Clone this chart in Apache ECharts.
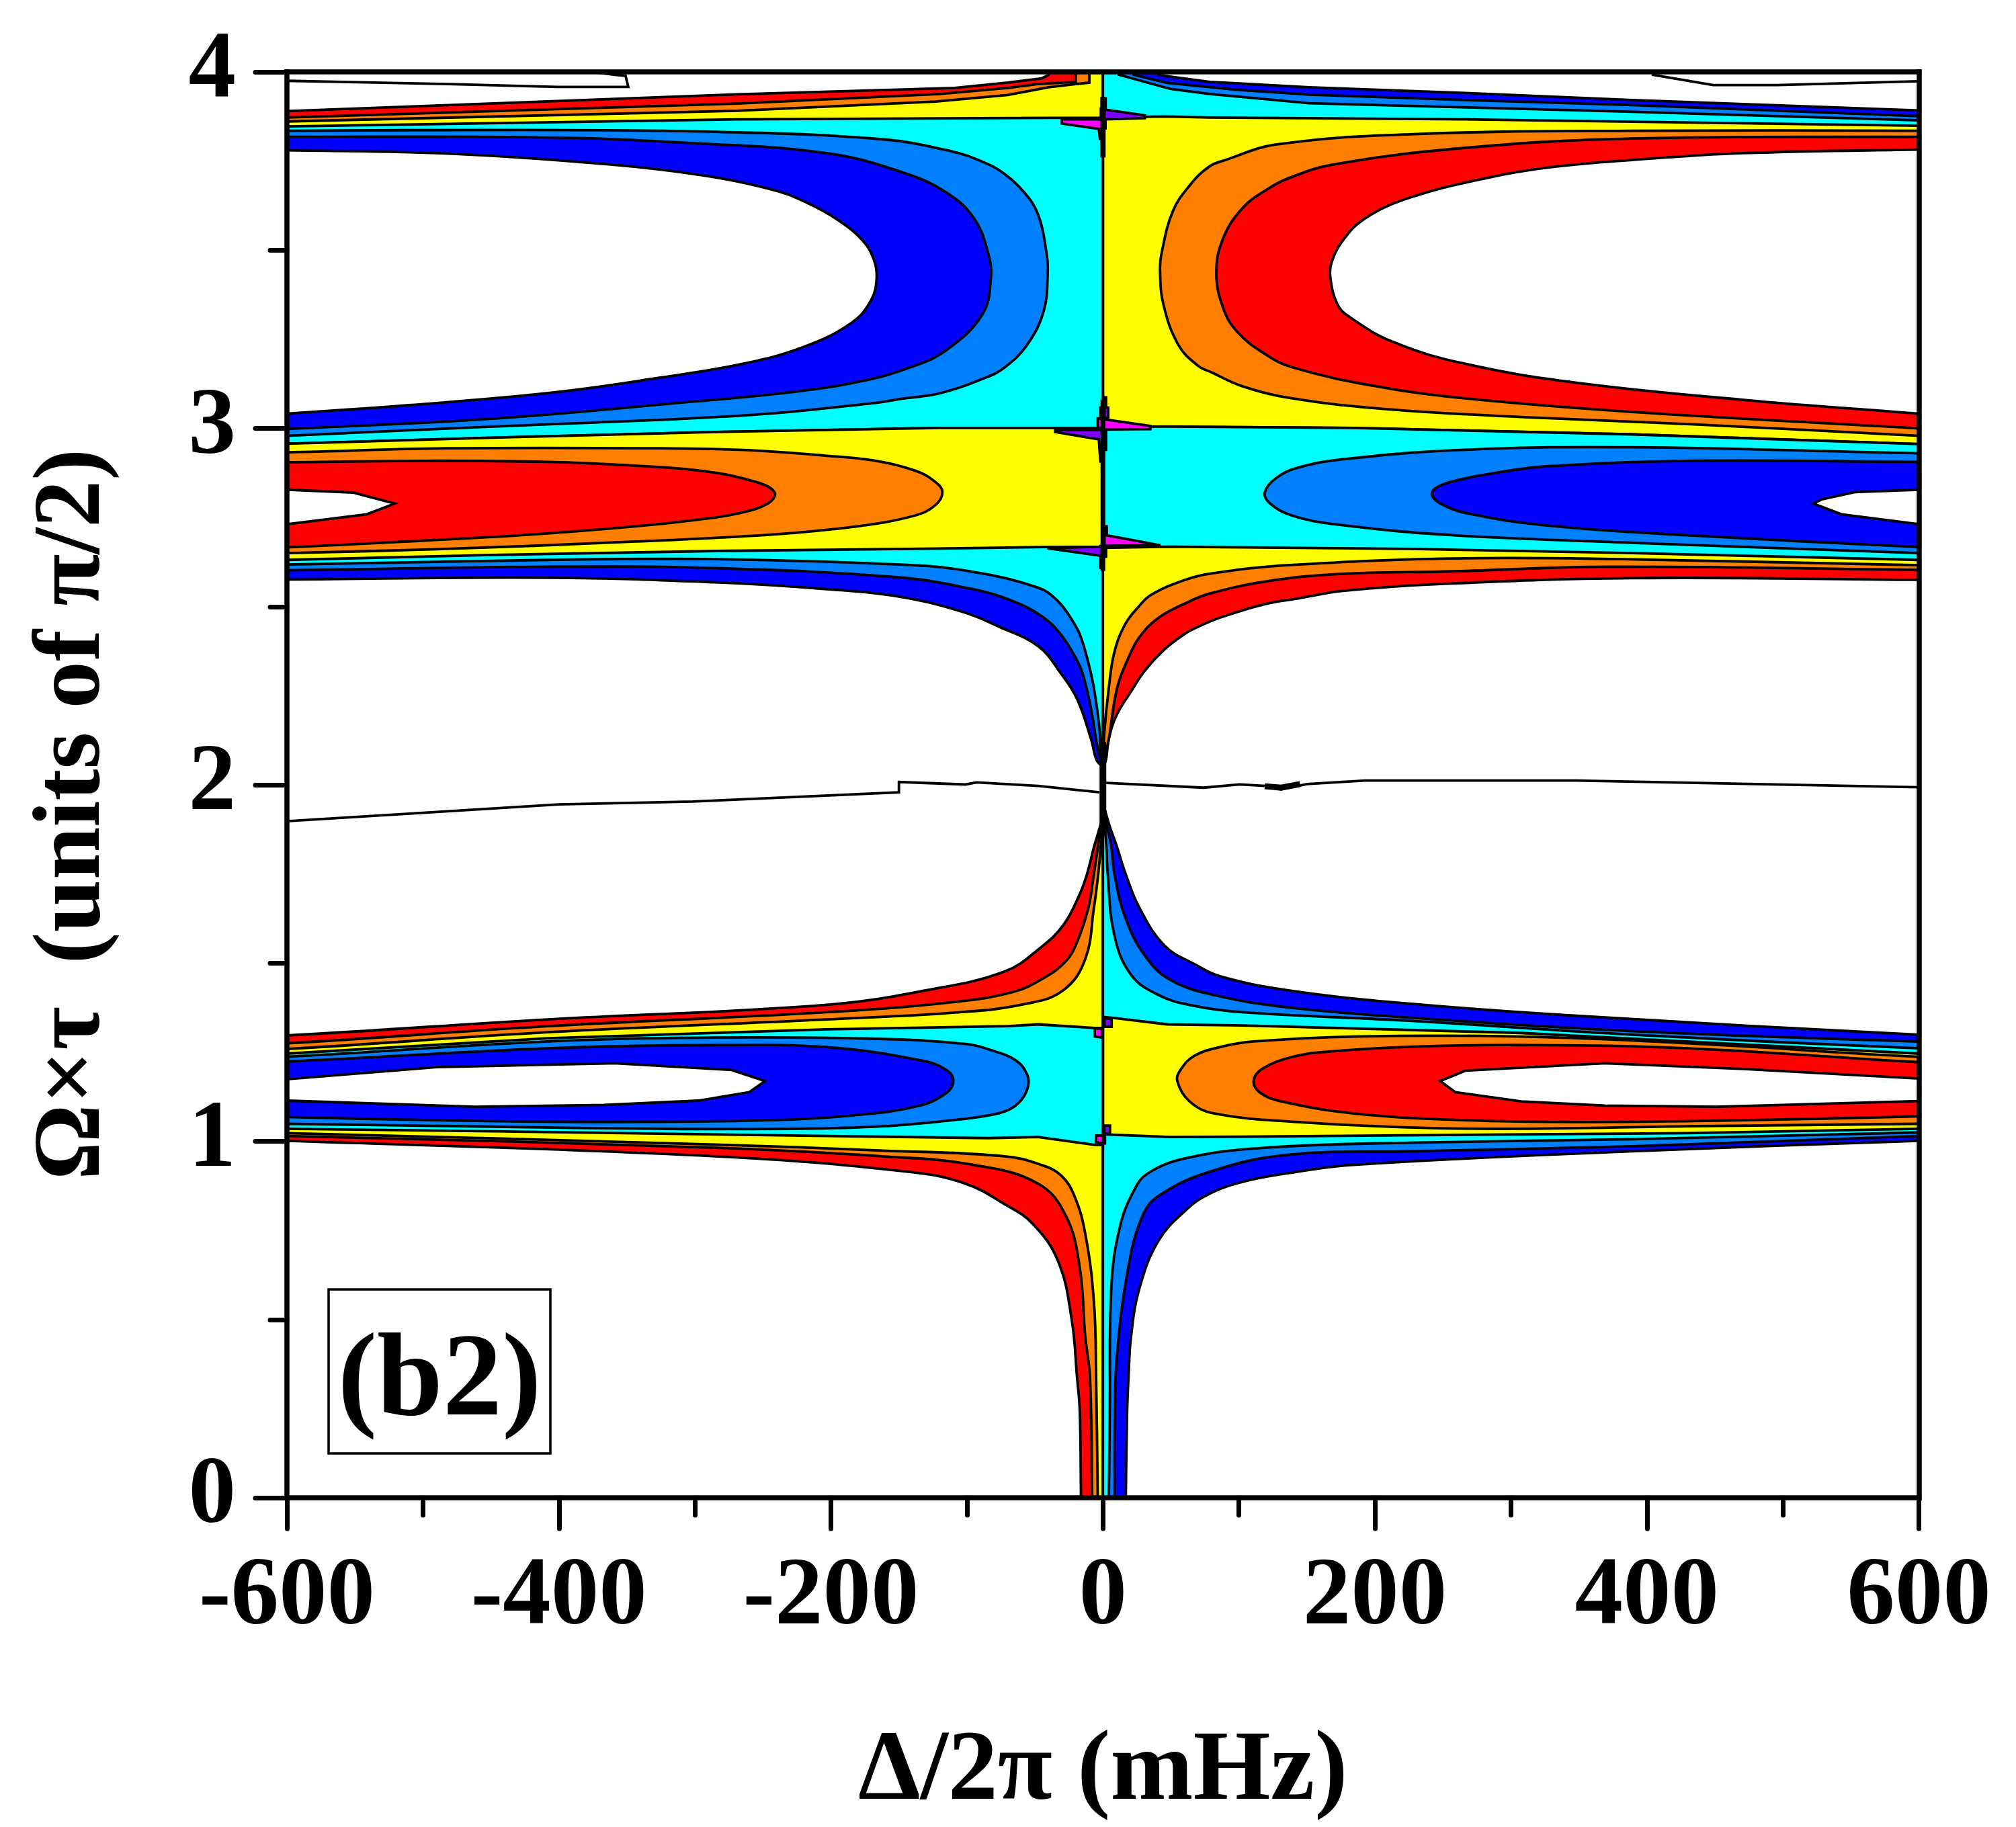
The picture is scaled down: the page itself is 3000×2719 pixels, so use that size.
<!DOCTYPE html>
<html>
<head>
<meta charset="utf-8">
<style>html,body{margin:0;padding:0;background:#fff}#chart{width:3000px;height:2719px}</style>
<script src="https://cdn.jsdelivr.net/npm/echarts@6/dist/echarts.min.js"></script>
</head>
<body>
<div id="chart"></div>
<script>
// Tick labels
const xTickLabels = ['-600', '-400', '-200', '0', '200', '400', '600'];
const yTickLabels = ['0', '1', '2', '3', '4'];

// Contour boundaries as [detuning in mHz, pulse area in units of pi/2]

// Left half, wedge at the top
const wedgeRedLeft = [[-600,3.890],[-269,3.937],[-109,3.955],[-70,3.970],[-45,3.982],[-40,3.991],[-38,4.05]];
const wedgeOrangeLeft = [[-600,3.872],[-269,3.911],[-120,3.938],[-70,3.955],[-48,3.966],[-20,3.972],[-20,4.05]];
const wedgeYellowLeft = [[-600,3.861],[-269,3.891],[-123,3.917],[-70,3.935],[-40,3.957],[-20,3.966],[-10,3.970],[-10,4.05]];

// Left half, upper cyan block
const cyanTopLeft = [[-600,3.847],[-269,3.867],[-39,3.871],[0,3.871]];
const cyanBottomLeft = [[-600,2.957],[-449,2.974],[-285,2.990],[-121,3.001],[-39,3.001],[0,3.001]];
const azureUpperLeft = [[-600,3.835],[-428.6,3.837],[-285,3.832],[-162.3,3.811],[-111,3.777],[-88.6,3.748],[-74.3,3.719],[-57.9,3.662],[-47.6,3.599],[-41.5,3.493],[-40.6,3.436],[-43.5,3.330],[-55.8,3.234],[-72.2,3.171],[-86.5,3.142],[-119.3,3.099],[-146,3.084],[-170.5,3.070],[-264.8,3.036],[-449,3.005],[-600,2.979]];
const blueUpperLeft = [[-600,3.818],[-408,3.816],[-305.7,3.801],[-203.3,3.772],[-148,3.719],[-115.2,3.662],[-94.7,3.589],[-84.5,3.493],[-82.4,3.421],[-88.6,3.320],[-115.2,3.219],[-141.8,3.171],[-176.7,3.133],[-223.8,3.104],[-301.6,3.075],[-449,3.027],[-600,2.998]];
const whiteUpperLeft = [[-600,3.780],[-490,3.772],[-387.7,3.748],[-305.7,3.716],[-244.3,3.671],[-217.6,3.633],[-195,3.585],[-176.7,3.527],[-168.5,3.474],[-166.4,3.421],[-170.5,3.359],[-184.9,3.296],[-219.7,3.229],[-264.8,3.181],[-326.2,3.142],[-408,3.099],[-510.6,3.065],[-600,3.041]];

// Left half, yellow block below it
const yellowBottomLeft = [[-600,2.631],[-449,2.645],[-285,2.656],[-121,2.663],[-43.5,2.667],[0,2.668]];
const orangeMidLeft = [[-600,2.933],[-482,2.944],[-326,2.944],[-256.6,2.938],[-203,2.923],[-170.5,2.911],[-137.8,2.881],[-123.4,2.850],[-118,2.821],[-123.4,2.784],[-138.6,2.755],[-183,2.724],[-244,2.702],[-346.7,2.682],[-490,2.661],[-600,2.650]];
const redMidLeft = [[-600,2.905],[-498,2.909],[-408,2.906],[-346.7,2.896],[-293.4,2.880],[-254.5,2.849],[-241.4,2.820],[-246.3,2.789],[-269,2.761],[-297.5,2.744],[-346.7,2.724],[-428.6,2.700],[-531,2.679],[-600,2.666]];
const whiteMidLeft = [[-600,2.828],[-551.5,2.820],[-520.8,2.789],[-541.3,2.759],[-600,2.731]];

// Left half, tail falling towards the centre at 2
const tailCyanLeft = [[-600,2.618],[-408,2.631],[-285,2.633],[-150,2.618],[-101,2.601],[-47.6,2.553],[-33,2.515],[-23,2.464],[-17,2.422],[-11,2.347],[-6.6,2.271],[-2.6,2.161],[-1.7,2.102],[0,2.05]];
const tailAzureLeft = [[-600,2.602],[-408,2.612],[-285,2.608],[-150,2.582],[-97,2.550],[-66,2.515],[-43.5,2.469],[-31,2.422],[-21,2.363],[-15,2.313],[-8.7,2.212],[-3.8,2.102],[0,2.05]];
const tailBlueLeft = [[-600,2.576],[-408,2.581],[-285,2.568],[-203,2.549],[-150,2.528],[-103,2.485],[-76,2.443],[-47.6,2.389],[-31,2.313],[-19,2.241],[-8.7,2.128],[-4.6,2.069],[0,2.05]];

// Left half, tail rising towards the centre at 2
const riseRedLeft = [[-600,1.297],[-408,1.342],[-203,1.383],[-129.6,1.424],[-72,1.477],[-45.6,1.544],[-29,1.607],[-17,1.694],[-11.6,1.751],[-6.6,1.825],[-0.5,1.909],[0,1.95]];
const riseOrangeLeft = [[-600,1.275],[-408,1.323],[-203,1.362],[-109,1.391],[-66,1.419],[-43.5,1.458],[-27,1.506],[-19,1.559],[-10.7,1.655],[-6.6,1.751],[-3.5,1.83],[-0.5,1.91],[0,1.95]];
const riseYellowLeft = [[-600,1.259],[-408,1.306],[-203,1.342],[-105,1.362],[-56,1.386],[-29,1.424],[-13,1.511],[-6.6,1.655],[-3.4,1.751],[-1.5,1.83],[-0.3,1.91],[0,1.95]];

// Left half, lower cyan block
const lowCyanTopLeft = [[-600,1.246],[-408,1.289],[-203,1.314],[-70,1.323],[-47.6,1.328],[-6,1.318],[0,1.318]];
const lowCyanBottomLeft = [[-600,1.035],[-449,1.028],[-203,1.015],[-84.5,1.009],[-47.6,1.012],[-6,0.990],[0,0.989]];
const azureLowLeft = [[-600,1.237],[-408,1.280],[-285,1.291],[-162,1.287],[-101,1.273],[-82.4,1.256],[-64,1.227],[-55.8,1.188],[-55,1.155],[-60,1.116],[-70,1.087],[-86.6,1.071],[-111,1.059],[-162,1.042],[-224,1.035],[-326,1.035],[-449,1.041],[-600,1.049]];
const blueLowLeft = [[-600,1.224],[-408,1.261],[-285,1.270],[-203,1.264],[-133.6,1.227],[-115,1.200],[-110,1.169],[-115,1.136],[-135.7,1.099],[-183,1.073],[-244,1.059],[-367,1.054],[-490,1.059],[-600,1.068]];
const whiteLowLeft = [[-600,1.174],[-490,1.208],[-359,1.219],[-273,1.200],[-248.4,1.169],[-260,1.138],[-297.5,1.114],[-367,1.102],[-461,1.097],[-600,1.114]];

// Left half, skirt running down to the bottom axis
const skirtRedLeft = [[-600,1.001],[-285,0.958],[-142,0.914],[-101,0.881],[-72,0.823],[-52,0.770],[-33,0.664],[-23,0.501],[-19,0.337],[-17,0.243],[-16.1,0]];
const skirtOrangeLeft = [[-600,1.015],[-285,0.982],[-162,0.958],[-95,0.934],[-47.6,0.881],[-27,0.789],[-17,0.645],[-13,0.453],[-9.5,0.337],[-7.9,0]];
const skirtYellowLeft = [[-600,1.023],[-285,0.991],[-162,0.974],[-72,0.958],[-45.6,0.934],[-31,0.905],[-21,0.847],[-13,0.741],[-6.6,0.549],[-5,0.337],[-3.8,0]];

// Right half, wedge at the top
const wedgeBlueRight = [[600,3.892],[389.4,3.921],[266.5,3.941],[151.8,3.957],[102.6,3.967],[78.6,3.972],[45.3,3.989],[41,3.992],[38,4.05]];
const wedgeAzureRight = [[600,3.876],[389.4,3.907],[266.5,3.921],[151.8,3.936],[98.5,3.950],[47.3,3.969],[22.6,3.992],[21,4.05]];
const wedgeCyanRight = [[600,3.864],[389.4,3.888],[151.8,3.912],[78.6,3.938],[50,3.952],[11.8,3.992],[10,4.05]];

// Right half, upper yellow block
const yellowTopRight = [[600,3.849],[266.5,3.867],[78.6,3.872],[45.6,3.875],[0,3.872]];
const yellowBottomRight = [[600,2.956],[389.4,2.983],[184.5,3.001],[49,3.005],[0,3.005]];
const orangeUpperRight = [[600,3.835],[389.4,3.835],[225.5,3.825],[127,3.796],[90.3,3.753],[78,3.734],[63.7,3.681],[51.4,3.609],[43.2,3.493],[42,3.445],[44.4,3.349],[55.5,3.234],[69.8,3.176],[80,3.157],[102.6,3.118],[139.5,3.084],[205,3.055],[307.5,3.032],[430,3.012],[600,2.979]];
const redUpperRight = [[600,3.818],[389.4,3.813],[266.5,3.787],[168,3.739],[135.4,3.700],[121,3.671],[102.6,3.618],[88.3,3.532],[83.4,3.436],[88.3,3.339],[98.5,3.272],[119,3.209],[139.5,3.171],[201,3.118],[266.5,3.084],[389.4,3.046],[600,3.000]];
const whiteUpperRight = [[600,3.782],[471,3.772],[389.4,3.753],[328,3.732],[283,3.703],[225.5,3.647],[192.7,3.589],[176.4,3.527],[168,3.464],[167.3,3.421],[172.3,3.349],[180.4,3.315],[213,3.243],[266.5,3.181],[348.4,3.128],[471,3.080],[600,3.041]];

// Right half, cyan block below it
const cyanBottomRight = [[600,2.631],[389.4,2.650],[225.5,2.662],[49,2.668],[0,2.665]];
const azureMidRight = [[600,2.930],[389.4,2.947],[266.5,2.940],[180.4,2.915],[143.6,2.890],[127.2,2.860],[119,2.820],[123,2.789],[139.5,2.755],[172.3,2.730],[258.3,2.700],[389.4,2.679],[600,2.650]];
const blueMidRight = [[600,2.906],[430,2.909],[328,2.894],[295,2.879],[254,2.848],[242,2.820],[248,2.789],[271.4,2.759],[328,2.727],[430,2.700],[600,2.667]];
const whiteMidRight = [[600,2.828],[553,2.821],[528.7,2.801],[522.6,2.789],[543,2.759],[600,2.731]];

// Right half, tail falling towards the centre at 2
const tailYellowRight = [[600,2.616],[381,2.633],[258,2.635],[135.4,2.616],[80,2.593],[59.6,2.574],[35,2.532],[26.8,2.502],[16.6,2.452],[8.4,2.372],[4.3,2.271],[1,2.145],[0,2.05]];
const tailOrangeRight = [[600,2.603],[373,2.612],[258,2.599],[172,2.591],[119,2.570],[78,2.536],[61.6,2.511],[41,2.469],[26.8,2.414],[18.6,2.355],[10.4,2.271],[4.3,2.128],[0,2.05]];
const tailRedRight = [[600,2.575],[389.4,2.580],[246,2.563],[176.4,2.544],[143.6,2.523],[119,2.507],[86,2.469],[69.8,2.443],[59.6,2.422],[45.3,2.380],[30.9,2.321],[20.7,2.262],[10,2.195],[4.3,2.128],[2.2,2.069],[0,2.05]];

// Right half, tail rising towards the centre at 2
const riseBlueRight = [[600,1.299],[348.4,1.352],[225.5,1.386],[135.4,1.424],[86,1.463],[67.8,1.496],[45.3,1.549],[26.8,1.655],[16.6,1.751],[10.4,1.825],[4.3,1.892],[0,1.95]];
const riseAzureRight = [[600,1.280],[389.4,1.309],[225.5,1.347],[135.4,1.376],[82,1.410],[49.4,1.453],[31,1.520],[16.6,1.626],[8.4,1.751],[6,1.83],[2,1.9],[0,1.95]];
const riseCyanRight = [[600,1.261],[389.4,1.299],[225.5,1.338],[102.6,1.362],[65.7,1.381],[41,1.410],[20.7,1.467],[8.4,1.578],[3.5,1.751],[2.5,1.83],[1,1.9],[0,1.95]];

// Right half, lower yellow block
const lowYellowTopRight = [[600,1.246],[307,1.304],[102.6,1.325],[47.3,1.328],[7.7,1.346],[0,1.349]];
const lowYellowBottomRight = [[600,1.035],[430,1.023],[266.5,1.018],[102.6,1.013],[49.4,1.012],[2.8,1.019],[0,1.020]];
const orangeLowRight = [[600,1.237],[430,1.275],[307,1.294],[184.5,1.294],[110.8,1.280],[88,1.266],[67.8,1.241],[57.5,1.203],[54.7,1.169],[63.7,1.112],[82,1.078],[143.6,1.054],[233.7,1.038],[307,1.035],[430,1.042],[600,1.049]];
const redLowRight = [[600,1.222],[430,1.261],[307,1.270],[225.5,1.265],[164,1.251],[139.5,1.237],[117,1.203],[110.8,1.169],[115.7,1.136],[131.3,1.112],[184.5,1.078],[266.5,1.059],[348.4,1.054],[471.3,1.059],[600,1.070]];
const whiteLowRight = [[600,1.176],[471.3,1.203],[369,1.219],[266.5,1.198],[248,1.169],[259,1.138],[307.5,1.112],[369,1.100],[451,1.097],[600,1.113]];

// Right half, skirt running down to the bottom axis
const skirtBlueRight = [[600,1.001],[389.4,0.972],[184.5,0.934],[135.4,0.910],[102.6,0.886],[78,0.852],[61.6,0.809],[41,0.722],[26.8,0.587],[20.7,0.453],[18.8,0.337],[17.8,0.243],[16.8,0]];
const skirtAzureRight = [[600,1.015],[389.4,0.986],[225.5,0.972],[135.4,0.962],[78,0.914],[41,0.847],[28.9,0.789],[18.6,0.645],[10.4,0.404],[8.8,0.243],[8.6,0]];
const skirtCyanRight = [[600,1.025],[389.4,1.006],[225.5,0.996],[119,0.982],[61.6,0.953],[33,0.910],[22.7,0.861],[12.5,0.760],[6.3,0.597],[5.1,0.243],[4.4,0]];

// Spikes beside the resonance line
const spikesMagenta = [
  [[-30.2,3.867],[-0.5,3.867],[-0.5,3.812],[-2.2,3.812],[-3,3.840],[-30.2,3.855]],
  [[1,3.925],[2,3.925],[2,3.897],[1,3.897]],
  [[-3.8,3.028],[34.9,3.007],[34.9,2.998],[2.3,2.997],[2.3,2.940],[1.1,2.940],[1.1,2.997],[-3.8,3.003]],
  [[-1.8,3.030],[-1.8,3.058],[-0.9,3.058],[-0.5,3.030]],
  [[1.1,2.725],[2.8,2.725],[2.8,2.700],[42.3,2.672],[1.1,2.671]],
  [[-1.8,2.637],[-0.5,2.637],[-0.5,2.609],[-1.8,2.609]],
  [[-6,1.316],[-0.5,1.316],[-0.5,1.291],[-6,1.294]],
  [[-5.1,1.016],[1.5,1.016],[1.5,0.994],[-5.1,0.997]]
];
const spikesPurple = [
  [[1.4,3.894],[30.8,3.878],[30.8,3.870],[1.9,3.867],[1.9,3.842],[1,3.842],[1,3.894]],
  [[-1.5,3.897],[-0.5,3.897],[-0.5,3.870],[-1.5,3.870]],
  [[1.1,3.087],[2.3,3.087],[2.3,3.058],[3.9,3.058],[3.9,3.030],[1.1,3.030]],
  [[-35.1,2.995],[-0.5,2.996],[-0.5,2.907],[-1.8,2.907],[-2.5,2.939],[-3,2.969],[-35.1,2.990]],
  [[-40.9,2.664],[-3,2.668],[-0.9,2.672],[-0.9,2.642],[-40.9,2.664]],
  [[1.1,2.666],[2.3,2.666],[2.3,2.640],[1.1,2.640]],
  [[1.1,1.345],[6.4,1.343],[6.4,1.321],[1.1,1.321]],
  [[1.1,1.044],[5.2,1.044],[5.2,1.021],[1.1,1.021]]
];

// Lone contour lines in the white regions
const lineTopLeft = [[-600,3.975],[-560,3.972],[-481,3.966],[-401,3.958],[-349,3.958],[-351,3.989],[-359,3.992],[-375,4.0]];
const lineTopRight = [[403.7,3.992],[448.8,3.963],[496,3.963],[600,3.974]];
const lineCentreLeft = [[-600,1.898],[-400,1.945],[-301.6,1.953],[-150,1.979],[-150,2.008],[-101,2.001],[-93,2.007],[-47.6,1.997],[-2.6,1.979]];
const lineCentreRight = [[0.2,2.006],[74,1.992],[100.6,2.001],[119,1.997],[131,1.987],[150,2.002],[192.7,2.012],[348,2.012],[600,1.993]];
const lineCentreKnot = [[119,1.996],[131,1.992],[145,2.002]];

// The resonance line at zero detuning, as [bottom, top, stroke width]
const resonanceLine = [[0,1.0,3],[1.0,1.35,4],[1.35,1.86,3],[1.86,2.12,10],[2.12,2.6,3],[2.6,2.95,7],[2.95,3.08,7],[3.08,3.76,4],[3.76,3.93,8],[3.93,4,3]];

const RED = '#ff0000', ORANGE = '#ff8000', YELLOW = '#ffff00', CYAN = '#00ffff',
      AZURE = '#0080ff', BLUE = '#0000ff', WHITE = '#ffffff', MAGENTA = '#ff00ff', PURPLE = '#8000ff';
const ROUNDED = 0.4;

// A doubled vertex keeps path smoothing from bending the straight closing edges
const corner = p => [p, p];

// Pads a band that starts and ends on the plot edge so its stroke stays outside the frame
function lobe(curve, side) {
  const first = curve[0], last = curve[curve.length - 1];
  return [...corner([side * 630, first[1]]), first, ...curve.slice(1, -1), last, last, ...corner([side * 630, last[1]])];
}
// Closes a band against the centre line, reaching the given height there
function toCentre(curve, height, side) {
  const end = curve[curve.length - 1];
  return [...corner([side * 630, curve[0][1]]), curve[0], ...curve.slice(1), end,
    ...corner([0, end[1]]), ...corner([0, height]), ...corner([side * 630, height])];
}
// Closes a block between an upper and a lower boundary
function block(top, bottom, side) {
  return [[side * 630, top[0][1]]].concat(top, bottom.slice().reverse(), [[side * 630, bottom[0][1]]]);
}

// Painted back to front, so each later fill covers the closing edge of the one before it
const fills = [
  [RED, toCentre(wedgeRedLeft, 3.8, -1)],
  [ORANGE, toCentre(wedgeOrangeLeft, 3.8, -1)],
  [YELLOW, toCentre(wedgeYellowLeft, 3.8, -1)],
  [BLUE, toCentre(wedgeBlueRight, 3.8, 1)],
  [AZURE, toCentre(wedgeAzureRight, 3.8, 1)],
  [CYAN, toCentre(wedgeCyanRight, 3.8, 1)],

  [BLUE, toCentre(tailBlueLeft, 2.7, -1), ROUNDED],
  [AZURE, toCentre(tailAzureLeft, 2.7, -1), ROUNDED],
  [CYAN, toCentre(tailCyanLeft, 2.7, -1), ROUNDED],
  [RED, toCentre(tailRedRight, 2.7, 1), ROUNDED],
  [ORANGE, toCentre(tailOrangeRight, 2.7, 1), ROUNDED],
  [YELLOW, toCentre(tailYellowRight, 2.7, 1), ROUNDED],

  [RED, toCentre(riseRedLeft, 1.2, -1), ROUNDED],
  [ORANGE, toCentre(riseOrangeLeft, 1.2, -1), ROUNDED],
  [YELLOW, toCentre(riseYellowLeft, 1.2, -1), ROUNDED],
  [BLUE, toCentre(riseBlueRight, 1.2, 1), ROUNDED],
  [AZURE, toCentre(riseAzureRight, 1.2, 1), ROUNDED],
  [CYAN, toCentre(riseCyanRight, 1.2, 1), ROUNDED],

  [RED, toCentre(skirtRedLeft, 1.1, -1), ROUNDED],
  [ORANGE, toCentre(skirtOrangeLeft, 1.1, -1), ROUNDED],
  [YELLOW, toCentre(skirtYellowLeft, 1.1, -1), ROUNDED],
  [BLUE, toCentre(skirtBlueRight, 1.1, 1), ROUNDED],
  [AZURE, toCentre(skirtAzureRight, 1.1, 1), ROUNDED],
  [CYAN, toCentre(skirtCyanRight, 1.1, 1), ROUNDED],

  [CYAN, block(cyanTopLeft, cyanBottomLeft, -1)],
  [AZURE, lobe(azureUpperLeft, -1), ROUNDED],
  [BLUE, lobe(blueUpperLeft, -1), ROUNDED],
  [WHITE, lobe(whiteUpperLeft, -1), ROUNDED],

  [YELLOW, block(cyanBottomLeft, yellowBottomLeft, -1)],
  [ORANGE, lobe(orangeMidLeft, -1), ROUNDED],
  [RED, lobe(redMidLeft, -1), ROUNDED],
  [WHITE, lobe(whiteMidLeft, -1)],

  [CYAN, block(lowCyanTopLeft, lowCyanBottomLeft, -1)],
  [AZURE, lobe(azureLowLeft, -1), ROUNDED],
  [BLUE, lobe(blueLowLeft, -1), ROUNDED],
  [WHITE, lobe(whiteLowLeft, -1)],

  [YELLOW, block(yellowTopRight, yellowBottomRight, 1)],
  [ORANGE, lobe(orangeUpperRight, 1), ROUNDED],
  [RED, lobe(redUpperRight, 1), ROUNDED],
  [WHITE, lobe(whiteUpperRight, 1), ROUNDED],

  [CYAN, block(yellowBottomRight, cyanBottomRight, 1)],
  [AZURE, lobe(azureMidRight, 1), ROUNDED],
  [BLUE, lobe(blueMidRight, 1), ROUNDED],
  [WHITE, lobe(whiteMidRight, 1)],

  [YELLOW, block(lowYellowTopRight, lowYellowBottomRight, 1)],
  [ORANGE, lobe(orangeLowRight, 1), ROUNDED],
  [RED, lobe(redLowRight, 1), ROUNDED],
  [WHITE, lobe(whiteLowRight, 1)]
];
spikesMagenta.forEach(p => fills.push([MAGENTA, p]));
spikesPurple.forEach(p => fills.push([PURPLE, p]));

const strokes = [lineTopLeft, lineTopRight, lineCentreLeft, lineCentreRight].map(p => [p, 3.8])
  .concat([[lineCentreKnot, 9]])
  .concat(resonanceLine.map(s => [[[0, s[0]], [0, s[1]]], s[2]]));

const chart = echarts.init(document.getElementById('chart'));
const serif = '"Liberation Serif", "Times New Roman", serif';
const frameLine = { lineStyle: { color: '#000', width: 7.5, cap: 'square' } };

chart.setOption({
  animation: false,
  backgroundColor: '#fff',
  grid: { left: 427, top: 107, width: 2428.5, height: 2122, containLabel: false, outerBoundsMode: 'none' },
  xAxis: [
    {
      type: 'value', min: -600, max: 600, interval: 200, z: 6,
      axisLine: Object.assign({ onZero: false }, frameLine),
      axisTick: { show: true, length: 46, lineStyle: { color: '#000', width: 7, cap: 'round' } },
      minorTick: { show: true, splitNumber: 2, length: 26, lineStyle: { color: '#000', width: 7, cap: 'round' } },
      splitLine: { show: false }, minorSplitLine: { show: false },
      axisLabel: {
        margin: 79, color: '#000', fontFamily: serif, fontWeight: 'bold', fontSize: 143,
        showMinLabel: true, showMaxLabel: true, hideOverlap: false,
        formatter: v => xTickLabels[Math.round((v + 600) / 200)]
      },
      name: 'Δ/2π (mHz)', nameLocation: 'middle', nameGap: 336,
      nameTextStyle: { color: '#000', fontFamily: serif, fontWeight: 'bold', fontSize: 148 }
    },
    {
      type: 'value', min: -600, max: 600, position: 'top', z: 6,
      axisLine: Object.assign({ onZero: false }, frameLine),
      axisTick: { show: false }, axisLabel: { show: false }, splitLine: { show: false }
    }
  ],
  yAxis: [
    {
      type: 'value', min: 0, max: 4, interval: 1, z: 6,
      axisLine: Object.assign({ onZero: false }, frameLine),
      axisTick: { show: true, length: 47, lineStyle: { color: '#000', width: 7, cap: 'round' } },
      minorTick: { show: true, splitNumber: 2, length: 25, lineStyle: { color: '#000', width: 7, cap: 'round' } },
      splitLine: { show: false }, minorSplitLine: { show: false },
      axisLabel: {
        margin: 76, color: '#000', fontFamily: serif, fontWeight: 'bold', fontSize: 141,
        showMinLabel: true, showMaxLabel: true, hideOverlap: false,
        formatter: v => yTickLabels[Math.round(v)]
      },
      name: 'Ω×τ \u2009(units of π/2)', nameLocation: 'middle', nameGap: 246, nameRotate: 90,
      nameTextStyle: { color: '#000', fontFamily: serif, fontWeight: 'bold', fontSize: 141, padding: [0, 88, 0, 0] }
    },
    {
      type: 'value', min: 0, max: 4, position: 'right', z: 6,
      axisLine: Object.assign({ onZero: false }, frameLine),
      axisTick: { show: false }, axisLabel: { show: false }, splitLine: { show: false }
    }
  ],
  series: [
    {
      type: 'custom', coordinateSystem: 'cartesian2d', xAxisIndex: 0, yAxisIndex: 0,
      clip: true, silent: true, z: 2,
      data: fills.map((f, i) => [0, 0, i]),
      renderItem: (params, api) => {
        const f = fills[api.value(2)];
        return {
          type: 'polygon',
          shape: { points: f[1].map(p => api.coord(p)), smooth: f[2] || 0 },
          style: { fill: f[0], stroke: '#000', lineWidth: 3.8, lineJoin: 'miter' }
        };
      }
    },
    {
      type: 'custom', coordinateSystem: 'cartesian2d', xAxisIndex: 0, yAxisIndex: 0,
      clip: true, silent: true, z: 3,
      data: strokes.map((s, i) => [0, 0, i]),
      renderItem: (params, api) => {
        const s = strokes[api.value(2)];
        return {
          type: 'polyline',
          shape: { points: s[0].map(p => api.coord(p)) },
          style: { fill: 'none', stroke: '#000', lineWidth: s[1] }
        };
      }
    }
  ],
  graphic: [
    {
      type: 'rect', z: 10, shape: { x: 489, y: 1919, width: 330, height: 244 },
      style: { fill: '#fff', stroke: '#000', lineWidth: 3.5 }
    },
    {
      type: 'text', z: 11, x: 654, y: 2060,
      style: {
        text: '(b2)', fill: '#000', align: 'center', verticalAlign: 'middle',
        font: 'bold 176px ' + serif
      }
    }
  ]
});
</script>
</body>
</html>
